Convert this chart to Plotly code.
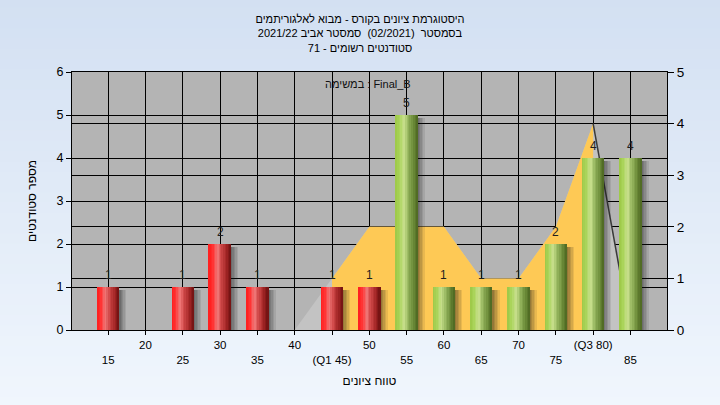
import plotly.graph_objects as go

# ---------------- data ----------------
categories = [15, 25, 30, 35, 45, 50, 55, 60, 65, 70, 75, 80, 85]
counts = [1, 1, 2, 1, 1, 1, 5, 1, 1, 1, 2, 4, 4]
pass_grade = 55

area_x = [40, 45, 50, 55, 60, 65, 70, 75, 80, 85]
area_y = [0, 1, 2, 2, 2, 1, 1, 2, 4, 0]
q1, q3 = 45, 80

tick_vals = [15, 20, 25, 30, 35, 40, 45, 50, 55, 60, 65, 70, 75, 80, 85]
tick_labels = ["15", "20", "25", "30", "35", "40", "(Q1 45)", "50", "55",
               "60", "65", "70", "75", "(Q3 80)", "85"]

title_lines = ["היסטוגרמת ציונים בקורס - מבוא לאלגוריתמים",
               "בסמסטר  (02/2021)  סמסטר אביב 2021/22",
               "סטודנטים רשומים - 71"]
task_label = "במשימה : Final_B"
x_title = "טווח ציונים"
y_title = "מספר סטודנטים"

FONT = "Liberation Sans, DejaVu Sans, Arial, sans-serif"

# ---------------- helpers ----------------
def hex2rgb(h):
    h = h.lstrip('#')
    return tuple(int(h[i:i + 2], 16) for i in (0, 2, 4))

def grad(stops, t):
    for (p0, c0), (p1, c1) in zip(stops, stops[1:]):
        if p0 <= t <= p1:
            f = (t - p0) / (p1 - p0) if p1 > p0 else 0
            a, b = hex2rgb(c0), hex2rgb(c1)
            return 'rgb(%d,%d,%d)' % tuple(round(a[k] + (b[k] - a[k]) * f) for k in range(3))
    return stops[-1][1]

red_stops = [(0.0, '#ff1c1c'), (0.18, '#ff3434'), (0.38, '#f07878'),
             (0.55, '#d04848'), (0.8, '#a02424'), (1.0, '#6e1010')]
green_stops = [(0.0, '#9cc846'), (0.18, '#aad45a'), (0.38, '#c8e08c'),
               (0.55, '#9aba62'), (0.8, '#6a8a38'), (1.0, '#4c6620')]

fig = go.Figure()

# ---- frequency area (right axis) ----
fig.add_trace(go.Scatter(x=area_x, y=area_y, mode='lines', fill='tozeroy',
                         line=dict(width=0, color='#c3c3c3'), fillcolor='#c3c3c3',
                         yaxis='y', hoverinfo='skip', showlegend=False))
iqr_x = [x for x in area_x if q1 <= x <= q3]
iqr_y = [y for x, y in zip(area_x, area_y) if q1 <= x <= q3]
fig.add_trace(go.Scatter(x=iqr_x, y=iqr_y, mode='lines', fill='tozeroy',
                         line=dict(width=0, color='#fec955'), fillcolor='#fec955',
                         yaxis='y', hoverinfo='skip', showlegend=False))
edge_x = [x for x in area_x if x >= q3]
edge_y = [y for x, y in zip(area_x, area_y) if x >= q3]
fig.add_trace(go.Scatter(x=edge_x, y=edge_y, mode='lines',
                         line=dict(width=1.5, color='#3a3a3a'),
                         yaxis='y', hoverinfo='skip', showlegend=False))

# ---- bars (left axis) with shadow + cylinder gradient ----
bar_w = 3.0
sh_n, sh_w = 5, 0.2
for i in range(sh_n):
    a = 0.45 * (1 - i / sh_n)
    fig.add_trace(go.Bar(x=categories, y=[c - 0.08 for c in counts],
                         width=sh_w, offset=bar_w / 2 + i * sh_w - 0.05,
                         marker=dict(color='rgba(20,20,20,%.2f)' % a, line=dict(width=0)),
                         yaxis='y2', hoverinfo='skip', showlegend=False))

n_sl = 14
sw = bar_w / n_sl
for i in range(n_sl):
    t = (i + 0.5) / n_sl
    cols = [grad(green_stops if c >= pass_grade else red_stops, t) for c in categories]
    fig.add_trace(go.Bar(x=categories, y=counts,
                         width=sw * (1.25 if i < n_sl - 1 else 1.0),
                         offset=-bar_w / 2 + i * sw,
                         marker=dict(color=cols, line=dict(width=0)),
                         yaxis='y2', hoverinfo='skip', showlegend=False))

annotations = []
for c, v in zip(categories, counts):
    annotations.append(dict(x=c, y=v, xref='x', yref='y2', text=str(v),
                            showarrow=False, yanchor='bottom', yshift=3,
                            font=dict(family=FONT, size=12, color='#1e1e1e')))
annotations.append(dict(x=0.497, y=0.985, xref='paper', yref='paper', text=task_label,
                        showarrow=False, font=dict(family=FONT, size=11, color='#111111')))

# ---- background gradient + plot background ----
shapes = []
n_bg = 40
y_lo, y_hi = -75 / 258 - 0.01, 1 + 72 / 258 + 0.01
top_c, bot_c = (211, 224, 242), (240, 246, 253)
for i in range(n_bg):
    f = i / (n_bg - 1)
    col = 'rgb(%d,%d,%d)' % tuple(round(bot_c[k] + (top_c[k] - bot_c[k]) * f) for k in range(3))
    y0 = y_lo + (y_hi - y_lo) * i / n_bg
    y1 = y_lo + (y_hi - y_lo) * (i + 1.3) / n_bg
    shapes.append(dict(type='rect', xref='paper', yref='paper', x0=-0.2, x1=1.2,
                       y0=y0, y1=y1, fillcolor=col, line=dict(width=0), layer='below'))
shapes.append(dict(type='rect', xref='paper', yref='paper', x0=0, x1=1, y0=0, y1=1,
                   fillcolor='#b4b4b4', line=dict(width=0), layer='below'))

display_ticks = [("<br>" + lab) if i % 2 == 0 else lab for i, lab in enumerate(tick_labels)]

fig.update_layout(
    width=720, height=405,
    margin=dict(l=72, r=53, t=72, b=75, autoexpand=False),
    paper_bgcolor='#e4eefa', plot_bgcolor='rgba(0,0,0,0)',
    barmode='overlay', bargap=0,
    showlegend=False,
    font=dict(family=FONT, size=12, color='#000000'),
    title=dict(text="<br>".join(title_lines), x=0.5, xref='container', xanchor='center',
               y=1 - 23 / 405, yref='container', yanchor='top', automargin=False,
               font=dict(family=FONT, size=11, color='#000000')),
    xaxis=dict(range=[10.15, 89.9], tickmode='array', tickvals=tick_vals, automargin=False,
               ticktext=display_ticks, tickfont=dict(family=FONT, size=11.5, color='#000000'),
               ticks='outside', ticklen=4, tickcolor='#000000', tickwidth=1,
               showgrid=True, gridcolor='#000000', gridwidth=1, zeroline=False,
               showline=True, linecolor='#000000', linewidth=1, mirror=True,
               title=dict(text=x_title, standoff=11, font=dict(family=FONT, size=12))),
    yaxis=dict(range=[0, 5], dtick=1, side='right', automargin=False,
               tickfont=dict(family=FONT, size=13.5, color='#000000'),
               ticks='outside', ticklen=6, tickcolor='#000000',
               showgrid=True, gridcolor='#000000', gridwidth=1, zeroline=False,
               showline=True, linecolor='#000000', linewidth=1),
    yaxis2=dict(range=[0, 6], dtick=1, side='left', overlaying='y', automargin=False,
                tickfont=dict(family=FONT, size=12.5, color='#000000'),
                ticks='outside', ticklen=5, tickcolor='#000000',
                showgrid=True, gridcolor='#000000', gridwidth=1, zeroline=False,
                showline=True, linecolor='#000000', linewidth=1,
                title=dict(text=y_title, standoff=17, font=dict(family=FONT, size=12))),
    annotations=annotations,
    shapes=shapes,
)

fig.write_html("out.html", config={'displayModeBar': False},
               post_script="document.body.style.margin='0';document.body.style.overflow='hidden';")
